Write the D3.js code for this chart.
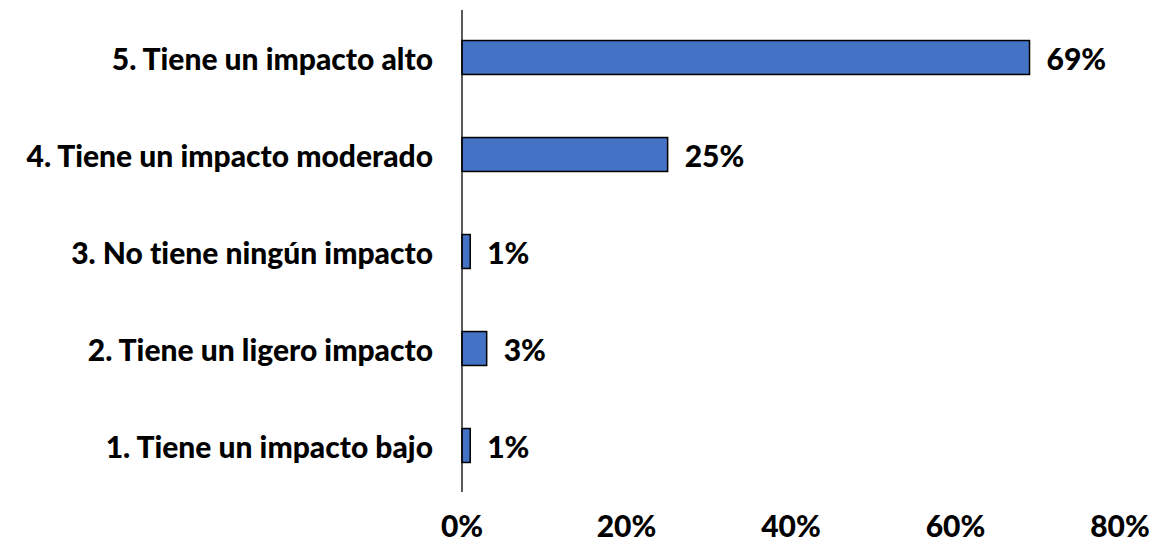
<!DOCTYPE html>
<html><head><meta charset="utf-8">
<script src="https://cdn.jsdelivr.net/npm/d3@7"></script>
<style>body{margin:0;background:#fff}text{font-family:Lato,"Open Sans",sans-serif;font-weight:900;fill:#000;font-variant-ligatures:none;font-feature-settings:"liga" 0,"dlig" 0}</style>
</head><body><svg id="c" width="1173" height="549"></svg>
<script>
const categories = ["5. Tiene un impacto alto","4. Tiene un impacto moderado","3. No tiene ningún impacto","2. Tiene un ligero impacto","1. Tiene un impacto bajo"];
const values = [69, 25, 1, 3, 1];
const ticks = [0, 20, 40, 60, 80];

const svg = d3.select("#c");
const x = d3.scaleLinear().domain([0, 80]).range([462, 1120]);
const y = d3.scaleBand().domain(categories).range([9, 494]).paddingInner(0.65).paddingOuter(0.325);
const FS = 30;

svg.selectAll("rect.bar").data(values).enter().append("rect")
  .attr("class","bar")
  .attr("x", x(0))
  .attr("y", (d,i)=>y(categories[i]))
  .attr("width", d=>x(d)-x(0))
  .attr("height", y.bandwidth())
  .attr("fill","#4472C4").attr("stroke","#000").attr("stroke-width",1.5);

svg.append("line").attr("x1",x(0)).attr("x2",x(0)).attr("y1",10).attr("y2",492)
  .attr("stroke","#000").attr("stroke-width",1.3);

svg.selectAll("text.cat").data(categories).enter().append("text")
  .attr("x", 433).attr("y", d=>y(d)+y.bandwidth()/2)
  .attr("text-anchor","end").attr("dominant-baseline","central")
  .attr("font-size", FS).text(d=>d);

svg.selectAll("text.val").data(values).enter().append("text")
  .attr("x", d=>x(d)+17).attr("y",(d,i)=>y(categories[i])+y.bandwidth()/2)
  .attr("dominant-baseline","central").attr("font-size",FS).text(d=>d+"%");

svg.selectAll("text.tick").data(ticks).enter().append("text")
  .attr("x", d=>x(d)).attr("y", 525).attr("text-anchor","middle")
  .attr("dominant-baseline","central").attr("font-size",FS).text(d=>d+"%");
</script></body></html>
